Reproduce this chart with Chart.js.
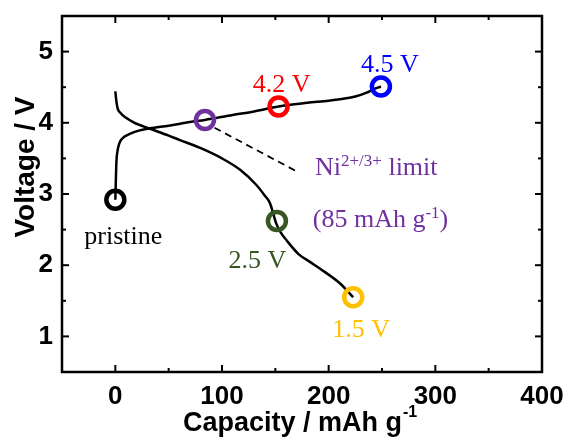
<!DOCTYPE html>
<html>
<head>
<meta charset="utf-8">
<script src="https://cdn.jsdelivr.net/npm/chart.js@4.4.0/dist/chart.umd.min.js"></script>
<style>
  html, body { margin: 0; padding: 0; background: #fff; }
  #wrap { width: 567px; height: 446px; position: relative; }
</style>
</head>
<body>
<div id="wrap"><canvas id="c" width="567" height="446"></canvas></div>
<script>
// ---- data ----
const chargeX = [0, 0.5, 1, 2, 3.5, 5.4, 8, 13, 22, 32, 50, 70, 84, 110, 130, 153, 180, 200, 215, 225, 235, 242, 249];
const chargeY = [2.92, 3.2, 3.45, 3.6, 3.7, 3.76, 3.8, 3.84, 3.89, 3.92, 3.96, 4.01, 4.04, 4.11, 4.16, 4.23, 4.28, 4.31, 4.34, 4.37, 4.42, 4.47, 4.51];

const dischargeX = [0, 1, 2, 4.7, 10, 18, 32, 50, 60, 79, 100, 117, 132, 140, 145, 151, 155, 160.5, 171.5, 182, 192, 211, 223];
const dischargeY = [4.44, 4.3, 4.21, 4.14, 4.07, 4.0, 3.92, 3.82, 3.76, 3.65, 3.5, 3.34, 3.13, 2.98, 2.87, 2.58, 2.46, 2.35, 2.16, 2.05, 1.95, 1.74, 1.55];

const markerNames = ['pristine', 'Ni limit', '4.2 V', '4.5 V', '2.5 V', '1.5 V'];
const markerX = [0, 84, 153, 249, 151.5, 223];
const markerY = [2.92, 4.04, 4.23, 4.51, 2.62, 1.55];
const markerColors = ['#000000', '#7030a0', '#ff0000', '#0000ff', '#375623', '#ffc000'];

const dashX = [93, 171];
const dashY = [3.93, 3.31];

const xTickValues = [0, 100, 200, 300, 400];
const yTickValues = [1, 2, 3, 4, 5];
const xMinorValues = [50, 150, 250, 350];
const yMinorValues = [1.5, 2.5, 3.5, 4.5];

const xTitle = 'Capacity / mAh g';
const xTitleSup = '-1';
const yTitle = 'Voltage / V';

// ---- build datasets ----
const toPts = (xs, ys) => xs.map((x, i) => ({x: x, y: ys[i]}));

const annotations = [
  {parts: [['pristine', 0]], x: 7.5, y: 2.296, align: 'center', color: '#000000'},
  {parts: [['4.2 V', 0]], x: 155.9, y: 4.437, align: 'center', color: '#ff0000'},
  {parts: [['4.5 V', 0]], x: 257.3, y: 4.718, align: 'center', color: '#0000ff'},
  {parts: [['Ni', 0], ['2+/3+', 1], [' limit', 0]], x: 187.2, y: 3.268, align: 'left', color: '#7030a0'},
  {parts: [['(85 mAh g', 0], ['-1', 1], [')', 0]], x: 185.1, y: 2.535, align: 'left', color: '#7030a0'},
  {parts: [['2.5 V', 0]], x: 133.1, y: 1.962, align: 'center', color: '#375623'},
  {parts: [['1.5 V', 0]], x: 230.5, y: 0.986, align: 'center', color: '#ffc000'}
];

function drawRich(ctx, parts, x, y, align, baseFont, supFont, supRise) {
  let total = 0;
  const widths = parts.map(p => {
    ctx.font = p[1] ? supFont : baseFont;
    const w = ctx.measureText(p[0]).width;
    total += w;
    return w;
  });
  let cx = align === 'center' ? x - total / 2 : x;
  ctx.textAlign = 'left';
  ctx.textBaseline = 'alphabetic';
  parts.forEach((p, i) => {
    ctx.font = p[1] ? supFont : baseFont;
    ctx.fillText(p[0], cx, p[1] ? y - supRise : y);
    cx += widths[i];
  });
}

const framePlugin = {
  id: 'framePlugin',
  afterDraw(chart) {
    const ctx = chart.ctx;
    const xs = chart.scales.x, ys = chart.scales.y;
    const a = chart.chartArea;
    ctx.save();
    // frame
    ctx.strokeStyle = '#000';
    ctx.lineWidth = 2.5;
    ctx.strokeRect(a.left, a.top, a.right - a.left, a.bottom - a.top);
    // inward ticks
    ctx.lineWidth = 2;
    const tickX = (vals, len) => vals.forEach(v => {
      const p = xs.getPixelForValue(v);
      ctx.beginPath(); ctx.moveTo(p, a.bottom); ctx.lineTo(p, a.bottom - len); ctx.stroke();
      ctx.beginPath(); ctx.moveTo(p, a.top); ctx.lineTo(p, a.top + len); ctx.stroke();
    });
    const tickY = (vals, len) => vals.forEach(v => {
      const p = ys.getPixelForValue(v);
      ctx.beginPath(); ctx.moveTo(a.left, p); ctx.lineTo(a.left + len, p); ctx.stroke();
      ctx.beginPath(); ctx.moveTo(a.right, p); ctx.lineTo(a.right - len, p); ctx.stroke();
    });
    tickX(xTickValues, 7); tickX(xMinorValues, 4);
    tickY(yTickValues, 7); tickY(yMinorValues, 4);

    // axis titles
    ctx.fillStyle = '#000';
    ctx.font = 'bold 27px "Liberation Sans", Arial, sans-serif';
    ctx.textAlign = 'left';
    ctx.textBaseline = 'alphabetic';
    ctx.fillText(xTitle, 183, 431);
    const w = ctx.measureText(xTitle).width;
    ctx.font = 'bold 16px "Liberation Sans", Arial, sans-serif';
    ctx.fillText(xTitleSup, 183 + w + 1, 417);

    ctx.save();
    ctx.translate(34, 167);
    ctx.rotate(-Math.PI / 2);
    ctx.font = 'bold 28px "Liberation Sans", Arial, sans-serif';
    ctx.textAlign = 'center';
    ctx.textBaseline = 'alphabetic';
    ctx.fillText(yTitle, 0, 0);
    ctx.restore();

    // annotations
    annotations.forEach(an => {
      ctx.fillStyle = an.color;
      drawRich(ctx, an.parts, xs.getPixelForValue(an.x), ys.getPixelForValue(an.y), an.align,
        '26px "Liberation Serif", "Times New Roman", serif',
        '17px "Liberation Serif", "Times New Roman", serif', 9);
    });
    ctx.restore();
  }
};

new Chart(document.getElementById('c'), {
  type: 'scatter',
  data: {
    datasets: [
      {
        label: 'markers',
        data: toPts(markerX, markerY),
        showLine: false,
        pointStyle: 'circle',
        pointRadius: 9,
        pointBorderWidth: 4.5,
        pointBorderColor: markerColors,
        pointBackgroundColor: 'rgba(0,0,0,0)',
        order: 0
      },
      {
        label: 'charge',
        data: toPts(chargeX, chargeY),
        showLine: true,
        borderColor: '#000',
        borderWidth: 2.5,
        pointRadius: 0,
        cubicInterpolationMode: 'monotone',
        order: 1
      },
      {
        label: 'discharge',
        data: toPts(dischargeX, dischargeY),
        showLine: true,
        borderColor: '#000',
        borderWidth: 2.5,
        pointRadius: 0,
        cubicInterpolationMode: 'monotone',
        order: 1
      },
      {
        label: 'limit',
        data: toPts(dashX, dashY),
        showLine: true,
        borderColor: '#000',
        borderWidth: 1.8,
        borderDash: [7, 5],
        pointRadius: 0,
        order: 1
      }
    ]
  },
  options: {
    responsive: false,
    animation: false,
    devicePixelRatio: 1,
    layout: { padding: { left: 0, right: 25, top: 16, bottom: 0 } },
    plugins: { legend: { display: false }, tooltip: { enabled: false } },
    scales: {
      x: {
        type: 'linear',
        min: -50, max: 400,
        grid: { display: false, drawTicks: false },
        border: { display: false },
        afterBuildTicks: s => { s.ticks = xTickValues.map(v => ({value: v})); },
        afterFit: s => { s.height = 74; s.paddingLeft = 0; s.paddingRight = 0; },
        ticks: {
          padding: 9,
          color: '#000',
          font: { family: '"Liberation Sans", Arial, sans-serif', size: 26, weight: 'bold' },
          maxRotation: 0,
          callback: v => String(v)
        }
      },
      y: {
        type: 'linear',
        min: 0.5, max: 5.5,
        grid: { display: false, drawTicks: false },
        border: { display: false },
        afterBuildTicks: s => { s.ticks = yTickValues.map(v => ({value: v})); },
        afterFit: s => { s.width = 62; s.paddingTop = 0; s.paddingBottom = 0; },
        ticks: {
          padding: 9,
          color: '#000',
          font: { family: '"Liberation Sans", Arial, sans-serif', size: 26, weight: 'bold' },
          callback: v => String(v)
        }
      }
    }
  },
  plugins: [framePlugin]
});
</script>
</body>
</html>
